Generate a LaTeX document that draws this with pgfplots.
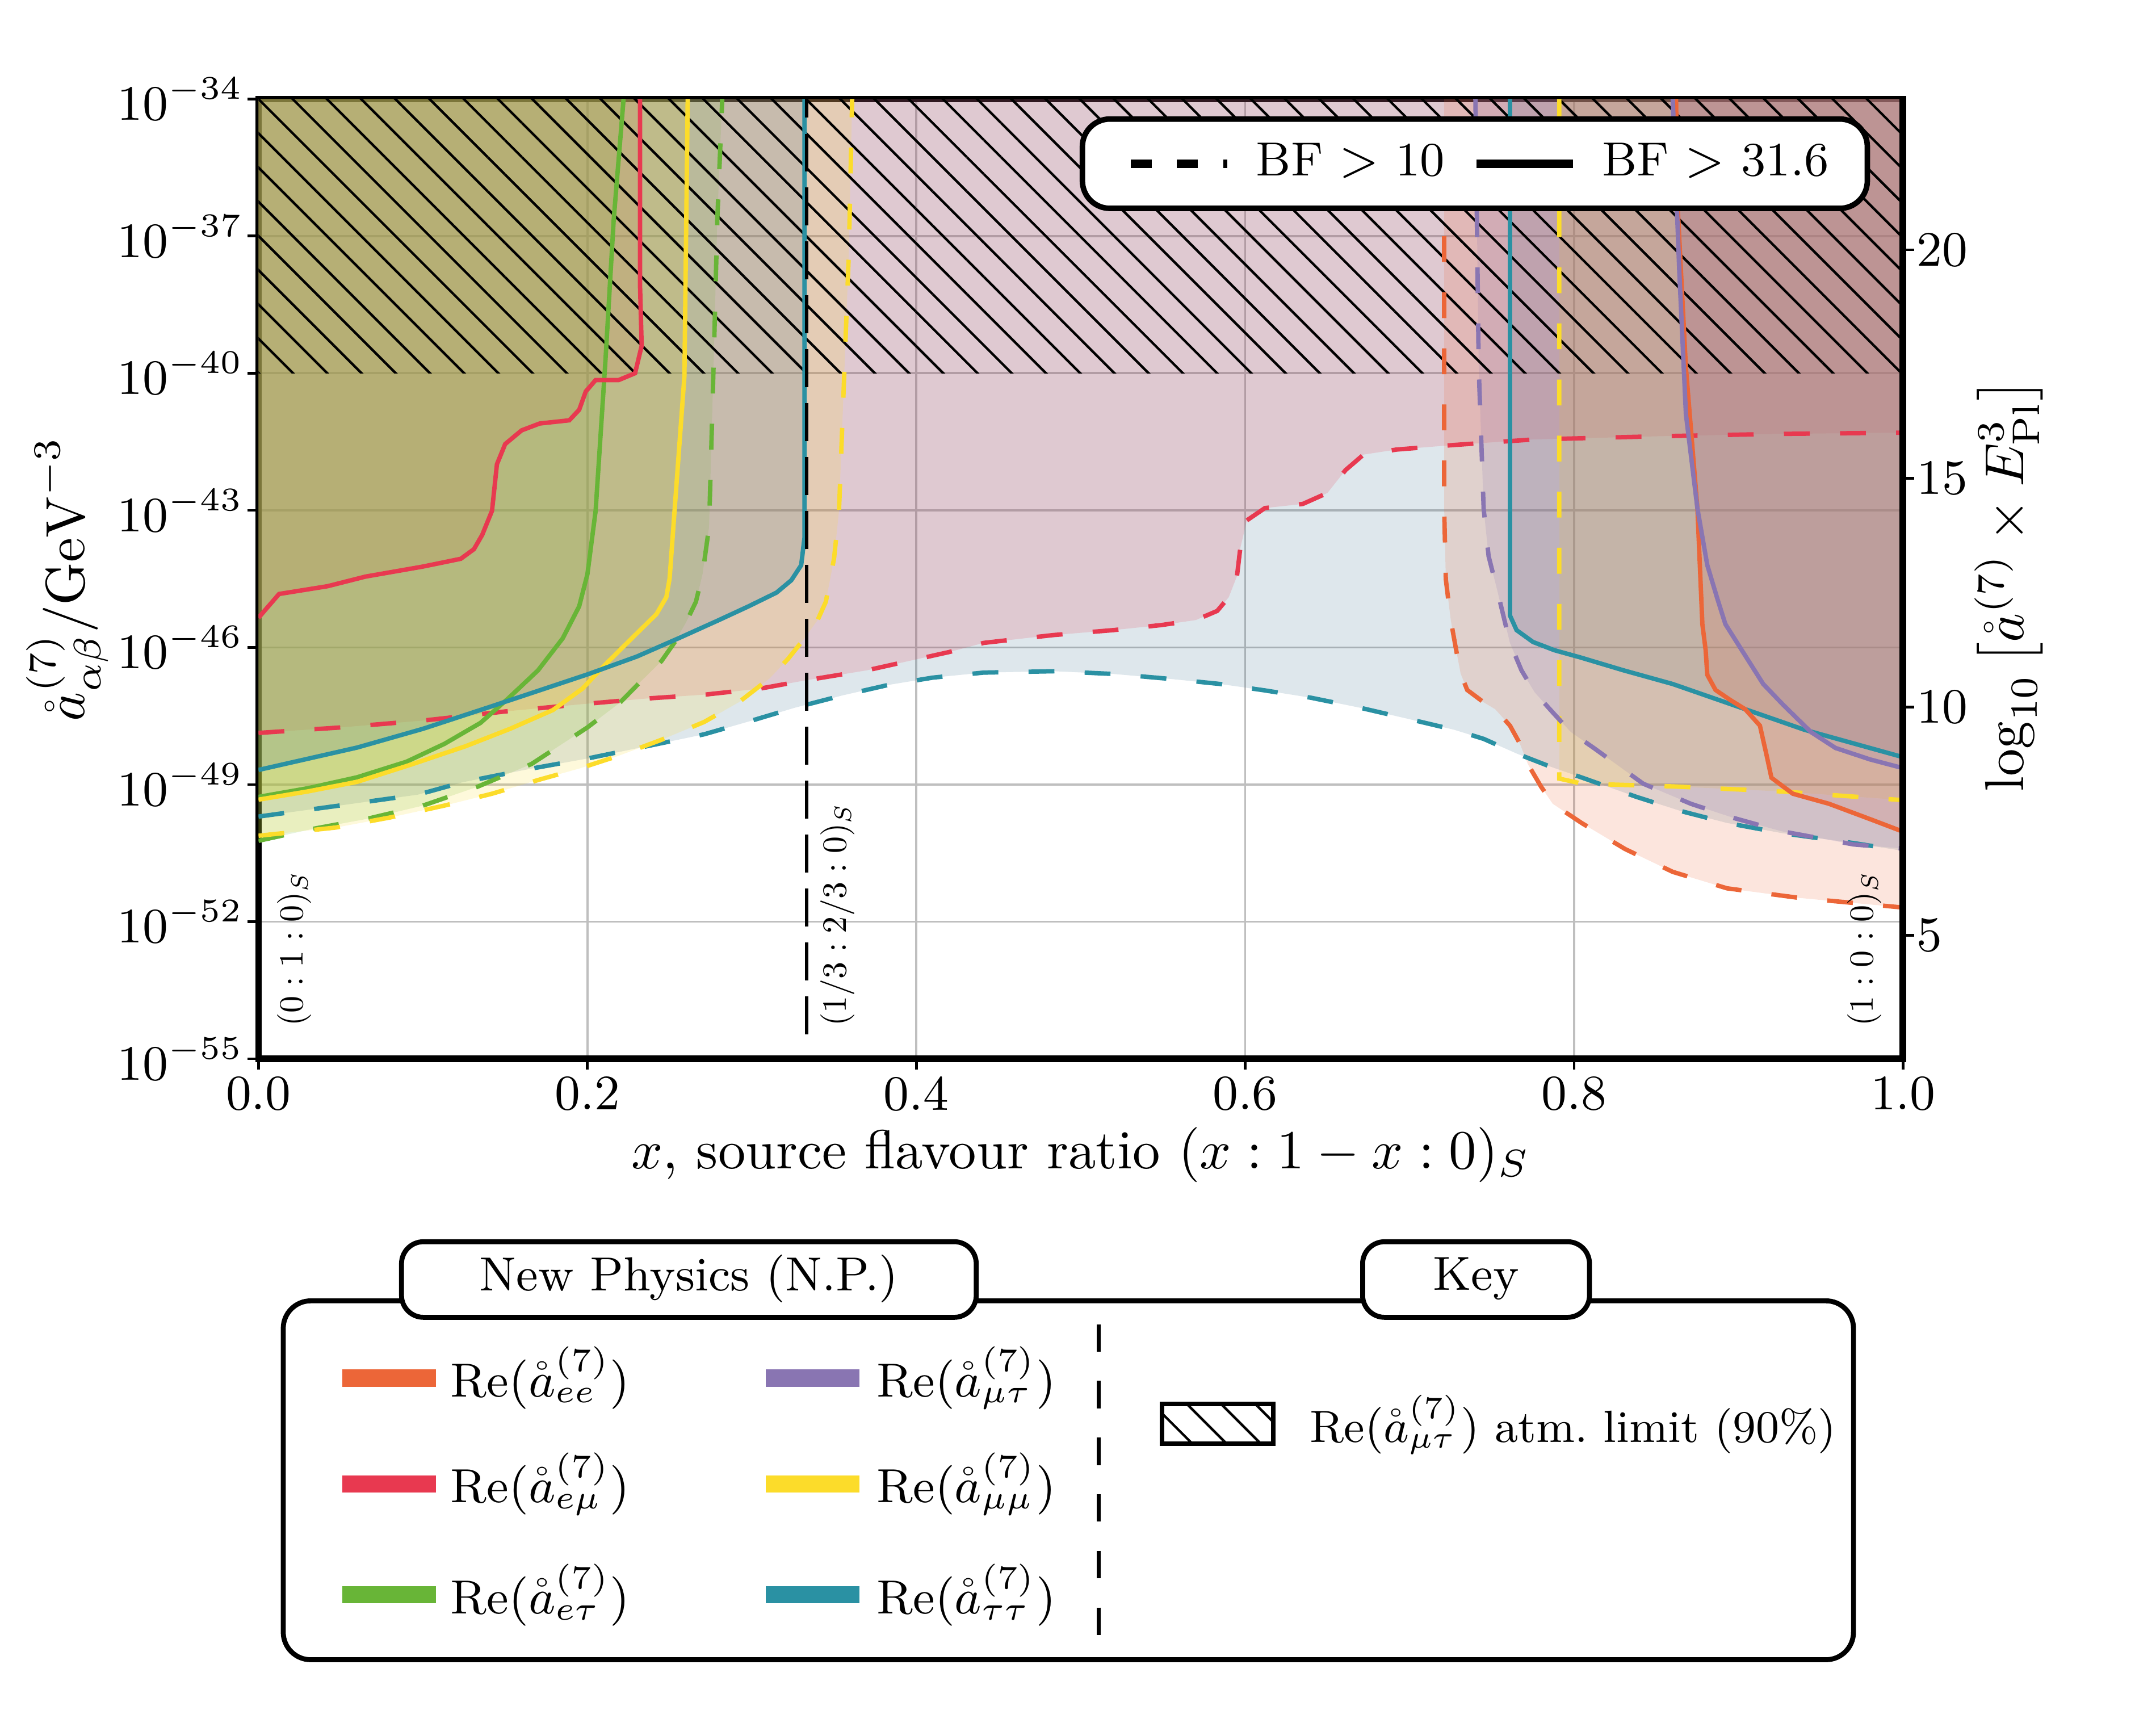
\documentclass[border=0pt]{standalone}
\usepackage{pgfplots}
\pgfplotsset{compat=1.18}
\usetikzlibrary{patterns.meta}
\definecolor{cee}{RGB}{236,102,56}
\definecolor{cem}{RGB}{232,57,80}
\definecolor{cet}{RGB}{104,181,55}
\definecolor{cmt}{RGB}{137,117,178}
\definecolor{cmm}{RGB}{252,220,42}
\definecolor{ctt}{RGB}{42,145,163}
\definecolor{cttf}{RGB}{60,110,140}
\newcommand{\fnt}{\fontsize{9}{11}\selectfont}
\newcommand{\xfnt}{\fontsize{10}{12}\selectfont}
\newcommand{\kfnt}{\fontsize{8.7}{10.5}\selectfont}
\pgfplotsset{
 regfill/.style={draw=none, fill=#1, fill opacity=0.17, forget plot},
 bfd/.style={color=#1, line width=0.8pt, dash pattern=on 4.7pt off 5.5pt, forget plot},
 bfs/.style={color=#1, line width=0.8pt, forget plot},
}
\tikzset{hatchp/.style={pattern={Lines[angle=-45,distance=4.4pt,line width=0.45pt]}, pattern color=black},
 ann/.style={rotate=90, anchor=west, inner sep=0pt, font=\normalsize, scale=0.62, transform shape}}
\begin{document}
\begin{tikzpicture}
\useasboundingbox (0pt,0pt) rectangle (392pt,313.25pt);
\begin{axis}[
 at={(47pt,120.75pt)}, anchor=south west,
 scale only axis, width=299pt, height=174.5pt,
 xmin=0, xmax=1, ymin=-55, ymax=-34,
 xtick={0,0.2,0.4,0.6,0.8,1},
 xticklabels={0.0,0.2,0.4,0.6,0.8,1.0},
 ytick={-55,-52,-49,-46,-43,-40,-37,-34},
 yticklabels={$10^{-55}$,$10^{-52}$,$10^{-49}$,$10^{-46}$,$10^{-43}$,$10^{-40}$,$10^{-37}$,$10^{-34}$},
 xtick pos=left, ytick pos=left,
 grid=major, grid style={black!25, line width=0.4pt},
 axis line style={line width=1.2pt},
 tick align=outside, major tick length=2pt, tick style={black, line width=0.5pt},
 yticklabel shift=-2.75pt, xticklabel shift=0pt,
 xticklabel style={inner sep=1pt},
 tick label style={font=\fnt}, label style={font=\xfnt},
 xlabel={$x$, source flavour ratio $(x:1-x:0)_S$},
 xlabel style={at={(axis description cs:0.5,-0.1)}, anchor=center, inner sep=0pt},
 ylabel={$\mathring{a}^{(7)}_{\alpha\beta}/\mathrm{GeV}^{-3}$},
 ylabel style={at={(axis description cs:-0.1162,0.5)}, anchor=center, inner sep=0pt},
 legend image code/.code={\path (0pt,0pt) (23pt,0pt); \draw[#1] (3pt,0pt) -- (20.5pt,0pt);},
 legend columns=2,
 legend style={at={(rel axis cs:0.98,0.982)}, anchor=north east, draw=black, line width=1pt,
   rounded corners=5pt, fill=white, font=\kfnt, inner xsep=5pt, inner ysep=2.4pt,
   /tikz/every even column/.append style={column sep=0pt}},
]
% ---- filled regions (BF>10 dashed, BF>31.6 solid) ----
\addplot[regfill=cttf] coordinates {(0,-49.70) (0.049,-49.46) (0.097,-49.22) (0.124,-48.95) (0.166,-48.65) (0.200,-48.43) (0.235,-48.17) (0.271,-47.90) (0.300,-47.60) (0.326,-47.32) (0.355,-47.05) (0.383,-46.82) (0.410,-46.66) (0.441,-46.55) (0.484,-46.52) (0.520,-46.58) (0.555,-46.69) (0.585,-46.80) (0.612,-46.94) (0.640,-47.10) (0.670,-47.32) (0.700,-47.57) (0.727,-47.80) (0.745,-48.00) (0.765,-48.32) (0.785,-48.60) (0.805,-48.85) (0.838,-49.27) (0.865,-49.58) (0.893,-49.84) (0.926,-50.06) (0.970,-50.28) (1.000,-50.45) (1,-34) (0,-34)} -- cycle;
\addplot[regfill=cem] coordinates {(0,-47.87) (0.05,-47.75) (0.10,-47.60) (0.15,-47.40) (0.197,-47.24) (0.235,-47.12) (0.272,-47.03) (0.305,-46.90) (0.331,-46.73) (0.370,-46.50) (0.395,-46.30) (0.420,-46.10) (0.441,-45.90) (0.483,-45.73) (0.520,-45.62) (0.549,-45.51) (0.570,-45.40) (0.583,-45.20) (0.590,-44.90) (0.595,-44.44) (0.597,-43.83) (0.601,-43.22) (0.612,-42.95) (0.635,-42.86) (0.650,-42.62) (0.661,-42.12) (0.672,-41.78) (0.692,-41.67) (0.727,-41.57) (0.775,-41.45) (0.850,-41.38) (0.920,-41.33) (1.000,-41.30) (1,-34) (0,-34)} -- cycle;
\addplot[regfill=cem] coordinates {(0,-45.35) (0.0125,-44.83) (0.042,-44.66) (0.065,-44.45) (0.100,-44.23) (0.123,-44.06) (0.131,-43.85) (0.136,-43.54) (0.142,-43.01) (0.145,-41.99) (0.150,-41.55) (0.160,-41.25) (0.171,-41.10) (0.189,-41.03) (0.195,-40.80) (0.199,-40.40) (0.205,-40.15) (0.219,-40.15) (0.229,-40.00) (0.233,-39.40) (0.232,-38.07) (0.232,-34.00) (0,-34)} -- cycle;
\addplot[regfill=cet] coordinates {(0,-50.23) (0.033,-49.97) (0.066,-49.75) (0.100,-49.46) (0.133,-49.05) (0.166,-48.55) (0.200,-47.75) (0.220,-47.20) (0.232,-46.76) (0.245,-46.30) (0.253,-45.89) (0.260,-45.45) (0.266,-45.00) (0.270,-44.40) (0.272,-43.88) (0.274,-43.36) (0.277,-39.49) (0.279,-36.64) (0.282,-34.00) (0,-34)} -- cycle;
\addplot[regfill=cet] coordinates {(0,-49.27) (0.030,-49.08) (0.060,-48.84) (0.090,-48.50) (0.113,-48.11) (0.135,-47.65) (0.152,-47.11) (0.170,-46.50) (0.185,-45.80) (0.195,-45.10) (0.200,-44.40) (0.205,-43.01) (0.211,-39.71) (0.216,-36.64) (0.222,-34.00) (0,-34)} -- cycle;
\addplot[regfill=cmm] coordinates {(0,-50.12) (0.047,-49.94) (0.080,-49.72) (0.113,-49.46) (0.142,-49.20) (0.171,-48.89) (0.195,-48.65) (0.219,-48.37) (0.245,-48.02) (0.271,-47.63) (0.292,-47.20) (0.311,-46.67) (0.322,-46.25) (0.332,-45.80) (0.340,-45.40) (0.345,-45.00) (0.350,-44.05) (0.353,-43.01) (0.356,-40.20) (0.359,-37.35) (0.361,-34.00) (0,-34)} -- cycle;
\addplot[regfill=cmm] coordinates {(0,-49.33) (0.030,-49.15) (0.060,-48.94) (0.093,-48.56) (0.126,-48.16) (0.153,-47.78) (0.179,-47.37) (0.197,-46.90) (0.211,-46.37) (0.227,-45.80) (0.242,-45.27) (0.248,-44.90) (0.250,-44.49) (0.253,-43.01) (0.259,-40.06) (0.261,-34.00) (0,-34)} -- cycle;
\addplot[regfill=cttf] coordinates {(0,-48.68) (0.060,-48.19) (0.100,-47.78) (0.139,-47.32) (0.170,-46.95) (0.200,-46.59) (0.230,-46.20) (0.256,-45.79) (0.280,-45.40) (0.298,-45.10) (0.315,-44.80) (0.324,-44.53) (0.330,-44.20) (0.332,-43.60) (0.332,-34.00) (0,-34)} -- cycle;
\addplot[regfill=cttf] coordinates {(0.761,-34.00) (0.761,-45.30) (0.765,-45.62) (0.775,-45.88) (0.788,-46.06) (0.804,-46.22) (0.830,-46.50) (0.860,-46.80) (0.900,-47.30) (0.940,-47.80) (1.000,-48.40) (1,-34)} -- cycle;
\addplot[regfill=cmm] coordinates {(0.791,-34.00) (0.791,-48.87) (0.805,-48.98) (0.860,-49.04) (0.926,-49.15) (1.000,-49.34) (1,-34)} -- cycle;
\addplot[regfill=cee] coordinates {(0.721,-34.00) (0.721,-42.96) (0.722,-44.51) (0.725,-45.40) (0.728,-46.00) (0.731,-46.57) (0.735,-46.93) (0.745,-47.20) (0.752,-47.35) (0.761,-47.71) (0.767,-48.10) (0.772,-48.56) (0.780,-49.05) (0.787,-49.42) (0.805,-49.85) (0.831,-50.41) (0.860,-50.91) (0.893,-51.27) (0.937,-51.48) (0.970,-51.59) (1.000,-51.69) (1,-34)} -- cycle;
\addplot[regfill=cee] coordinates {(0.862,-34.00) (0.863,-36.37) (0.868,-39.88) (0.875,-42.96) (0.878,-45.49) (0.880,-46.06) (0.881,-46.60) (0.886,-46.93) (0.895,-47.15) (0.904,-47.35) (0.913,-47.71) (0.917,-48.35) (0.920,-48.85) (0.933,-49.20) (0.955,-49.42) (0.981,-49.77) (1.000,-50.03) (1,-34)} -- cycle;
\addplot[regfill=cmt] coordinates {(0.740,-34.00) (0.742,-39.88) (0.745,-42.96) (0.748,-44.00) (0.753,-44.71) (0.761,-45.90) (0.768,-46.50) (0.776,-46.98) (0.787,-47.42) (0.798,-47.85) (0.812,-48.20) (0.842,-48.98) (0.871,-49.42) (0.897,-49.73) (0.926,-50.02) (0.970,-50.31) (1.000,-50.40) (1,-34)} -- cycle;
\addplot[regfill=cmt] coordinates {(0.860,-34.00) (0.864,-37.80) (0.868,-40.90) (0.875,-42.96) (0.881,-44.20) (0.887,-44.92) (0.892,-45.49) (0.902,-46.06) (0.915,-46.80) (0.927,-47.25) (0.944,-47.85) (0.959,-48.20) (0.980,-48.45) (1.000,-48.64) (1,-34)} -- cycle;
% ---- atmospheric limit (hatched) ----
\addplot[draw=none, hatchp, forget plot] coordinates {(0,-40) (1,-40) (1,-34) (0,-34)} -- cycle;
% ---- contour lines ----
\addplot[bfd=ctt] coordinates {(0,-49.70) (0.049,-49.46) (0.097,-49.22) (0.124,-48.95) (0.166,-48.65) (0.200,-48.43) (0.235,-48.17) (0.271,-47.90) (0.300,-47.60) (0.326,-47.32) (0.355,-47.05) (0.383,-46.82) (0.410,-46.66) (0.441,-46.55) (0.484,-46.52) (0.520,-46.58) (0.555,-46.69) (0.585,-46.80) (0.612,-46.94) (0.640,-47.10) (0.670,-47.32) (0.700,-47.57) (0.727,-47.80) (0.745,-48.00) (0.765,-48.32) (0.785,-48.60) (0.805,-48.85) (0.838,-49.27) (0.865,-49.58) (0.893,-49.84) (0.926,-50.06) (0.970,-50.28) (1.000,-50.45)};
\addplot[bfd=cem] coordinates {(0,-47.87) (0.05,-47.75) (0.10,-47.60) (0.15,-47.40) (0.197,-47.24) (0.235,-47.12) (0.272,-47.03) (0.305,-46.90) (0.331,-46.73) (0.370,-46.50) (0.395,-46.30) (0.420,-46.10) (0.441,-45.90) (0.483,-45.73) (0.520,-45.62) (0.549,-45.51) (0.570,-45.40) (0.583,-45.20) (0.590,-44.90) (0.595,-44.44) (0.597,-43.83) (0.601,-43.22) (0.612,-42.95) (0.635,-42.86) (0.650,-42.62) (0.661,-42.12) (0.672,-41.78) (0.692,-41.67) (0.727,-41.57) (0.775,-41.45) (0.850,-41.38) (0.920,-41.33) (1.000,-41.30)};
\addplot[bfd=cet] coordinates {(0,-50.23) (0.033,-49.97) (0.066,-49.75) (0.100,-49.46) (0.133,-49.05) (0.166,-48.55) (0.200,-47.75) (0.220,-47.20) (0.232,-46.76) (0.245,-46.30) (0.253,-45.89) (0.260,-45.45) (0.266,-45.00) (0.270,-44.40) (0.272,-43.88) (0.274,-43.36) (0.277,-39.49) (0.279,-36.64) (0.282,-34.00)};
\addplot[bfs=cet] coordinates {(0,-49.27) (0.030,-49.08) (0.060,-48.84) (0.090,-48.50) (0.113,-48.11) (0.135,-47.65) (0.152,-47.11) (0.170,-46.50) (0.185,-45.80) (0.195,-45.10) (0.200,-44.40) (0.205,-43.01) (0.211,-39.71) (0.216,-36.64) (0.222,-34.00)};
\addplot[bfd=cmm] coordinates {(0,-50.12) (0.047,-49.94) (0.080,-49.72) (0.113,-49.46) (0.142,-49.20) (0.171,-48.89) (0.195,-48.65) (0.219,-48.37) (0.245,-48.02) (0.271,-47.63) (0.292,-47.20) (0.311,-46.67) (0.322,-46.25) (0.332,-45.80) (0.340,-45.40) (0.345,-45.00) (0.350,-44.05) (0.353,-43.01) (0.356,-40.20) (0.359,-37.35) (0.361,-34.00)};
\addplot[bfs=cmm] coordinates {(0,-49.33) (0.030,-49.15) (0.060,-48.94) (0.093,-48.56) (0.126,-48.16) (0.153,-47.78) (0.179,-47.37) (0.197,-46.90) (0.211,-46.37) (0.227,-45.80) (0.242,-45.27) (0.248,-44.90) (0.250,-44.49) (0.253,-43.01) (0.259,-40.06) (0.261,-34.00)};
\addplot[bfs=cem] coordinates {(0,-45.35) (0.0125,-44.83) (0.042,-44.66) (0.065,-44.45) (0.100,-44.23) (0.123,-44.06) (0.131,-43.85) (0.136,-43.54) (0.142,-43.01) (0.145,-41.99) (0.150,-41.55) (0.160,-41.25) (0.171,-41.10) (0.189,-41.03) (0.195,-40.80) (0.199,-40.40) (0.205,-40.15) (0.219,-40.15) (0.229,-40.00) (0.233,-39.40) (0.232,-38.07) (0.232,-34.00)};
\addplot[bfs=ctt] coordinates {(0,-48.68) (0.060,-48.19) (0.100,-47.78) (0.139,-47.32) (0.170,-46.95) (0.200,-46.59) (0.230,-46.20) (0.256,-45.79) (0.280,-45.40) (0.298,-45.10) (0.315,-44.80) (0.324,-44.53) (0.330,-44.20) (0.332,-43.60) (0.332,-34.00)};
\addplot[bfs=ctt] coordinates {(0.761,-34.00) (0.761,-45.30) (0.765,-45.62) (0.775,-45.88) (0.788,-46.06) (0.804,-46.22) (0.830,-46.50) (0.860,-46.80) (0.900,-47.30) (0.940,-47.80) (1.000,-48.40)};
\addplot[bfd=cmm] coordinates {(0.791,-34.00) (0.791,-48.87) (0.805,-48.98) (0.860,-49.04) (0.926,-49.15) (1.000,-49.34)};
\addplot[bfd=cee] coordinates {(0.721,-37.00) (0.721,-42.96) (0.722,-44.51) (0.725,-45.40) (0.728,-46.00) (0.731,-46.57) (0.735,-46.93) (0.745,-47.20) (0.752,-47.35) (0.761,-47.71) (0.767,-48.10) (0.772,-48.56) (0.780,-49.05) (0.787,-49.42) (0.805,-49.85) (0.831,-50.41) (0.860,-50.91) (0.893,-51.27) (0.937,-51.48) (0.970,-51.59) (1.000,-51.69)};
\addplot[bfs=cee] coordinates {(0.862,-34.00) (0.863,-36.37) (0.868,-39.88) (0.875,-42.96) (0.878,-45.49) (0.880,-46.06) (0.881,-46.60) (0.886,-46.93) (0.895,-47.15) (0.904,-47.35) (0.913,-47.71) (0.917,-48.35) (0.920,-48.85) (0.933,-49.20) (0.955,-49.42) (0.981,-49.77) (1.000,-50.03)};
\addplot[bfd=cmt] coordinates {(0.740,-34.00) (0.742,-39.88) (0.745,-42.96) (0.748,-44.00) (0.753,-44.71) (0.761,-45.90) (0.768,-46.50) (0.776,-46.98) (0.787,-47.42) (0.798,-47.85) (0.812,-48.20) (0.842,-48.98) (0.871,-49.42) (0.897,-49.73) (0.926,-50.02) (0.970,-50.31) (1.000,-50.40)};
\addplot[bfs=cmt] coordinates {(0.860,-34.00) (0.864,-37.80) (0.868,-40.90) (0.875,-42.96) (0.881,-44.20) (0.887,-44.92) (0.892,-45.49) (0.902,-46.06) (0.915,-46.80) (0.927,-47.25) (0.944,-47.85) (0.959,-48.20) (0.980,-48.45) (1.000,-48.64)};
% ---- flavour-ratio marker ----
\addplot[black, line width=0.55pt, dash pattern=on 6.9pt off 2.9pt, forget plot] coordinates {(0.3333,-54.46) (0.3333,-34)};
\node[ann] at (axis cs:0.0218,-54.3) {$(0:1:0)_S$};
\node[ann] at (axis cs:0.352,-54.3) {$(1/3:2/3:0)_S$};
\node[ann] at (axis cs:0.9766,-54.3) {$(1:0:0)_S$};
% ---- legend ----
\addlegendimage{black, line width=1.6pt, dash pattern=on 3.8pt off 4.6pt}
\addlegendentry{BF $>$ 10}
\addlegendimage{black, line width=1.6pt}
\addlegendentry{BF $>$ 31.6}
\end{axis}
\begin{axis}[
 at={(47pt,120.75pt)}, anchor=south west,
 scale only axis, width=299pt, height=174.5pt,
 xmin=0, xmax=1, ymin=2.3, ymax=23.3,
 hide x axis, axis y line*=right,
 ytick={5,10,15,20},
 y axis line style={line width=1.2pt},
 tick align=outside, major tick length=2pt, tick style={black, line width=0.5pt},
 yticklabel shift=-3pt,
 tick label style={font=\fnt}, label style={font=\xfnt},
 ylabel={$\log_{10}\left[\mathring{a}^{(7)}\times E_{\mathrm{Pl}}^{3}\right]$},
 ylabel style={at={(axis description cs:1.0644,0.4935)}, anchor=center, inner sep=0pt},
]
\addplot[draw=none, forget plot] coordinates {(0,5)};
\end{axis}
% ---- bottom key box ----
\begin{scope}[shift={(0pt,313.25pt)}, x=0.25pt, y=-0.25pt, font=\kfnt]
 \draw[line width=0.9pt, rounded corners=5pt] (206,946) rectangle (1348,1207);
 \draw[line width=0.9pt, rounded corners=4pt, fill=white] (292,903) rectangle (710,958);
 \node at (501,930) {New Physics (N.P.)};
 \draw[line width=0.9pt, rounded corners=4pt, fill=white] (991,903) rectangle (1156,958);
 \node at (1073.5,930) {Key};
 \fill[cee] (249,996) rectangle (317,1008.5);
 \fill[cem] (249,1073) rectangle (317,1085.5);
 \fill[cet] (249,1153.5) rectangle (317,1166);
 \fill[cmt] (557,996) rectangle (625,1008.5);
 \fill[cmm] (557,1073) rectangle (625,1085.5);
 \fill[ctt] (557,1153.5) rectangle (625,1166);
 \node[anchor=west, inner sep=0pt] at (327,1002) {Re$(\mathring{a}^{(7)}_{ee})$};
 \node[anchor=west, inner sep=0pt] at (327,1079) {Re$(\mathring{a}^{(7)}_{e\mu})$};
 \node[anchor=west, inner sep=0pt] at (327,1160) {Re$(\mathring{a}^{(7)}_{e\tau})$};
 \node[anchor=west, inner sep=0pt] at (637,1002) {Re$(\mathring{a}^{(7)}_{\mu\tau})$};
 \node[anchor=west, inner sep=0pt] at (637,1079) {Re$(\mathring{a}^{(7)}_{\mu\mu})$};
 \node[anchor=west, inner sep=0pt] at (637,1160) {Re$(\mathring{a}^{(7)}_{\tau\tau})$};
 \draw[line width=0.7pt, dash pattern=on 5pt off 5.3pt] (799,963) -- (799,1190);
 \draw[line width=0.8pt, hatchp] (845,1021) rectangle (926,1050);
 \node[anchor=west, inner sep=0pt, scale=0.945, transform shape] at (952,1036) {Re$(\mathring{a}^{(7)}_{\mu\tau})$ atm.\ limit (90\%)};
\end{scope}
\end{tikzpicture}
\end{document}
